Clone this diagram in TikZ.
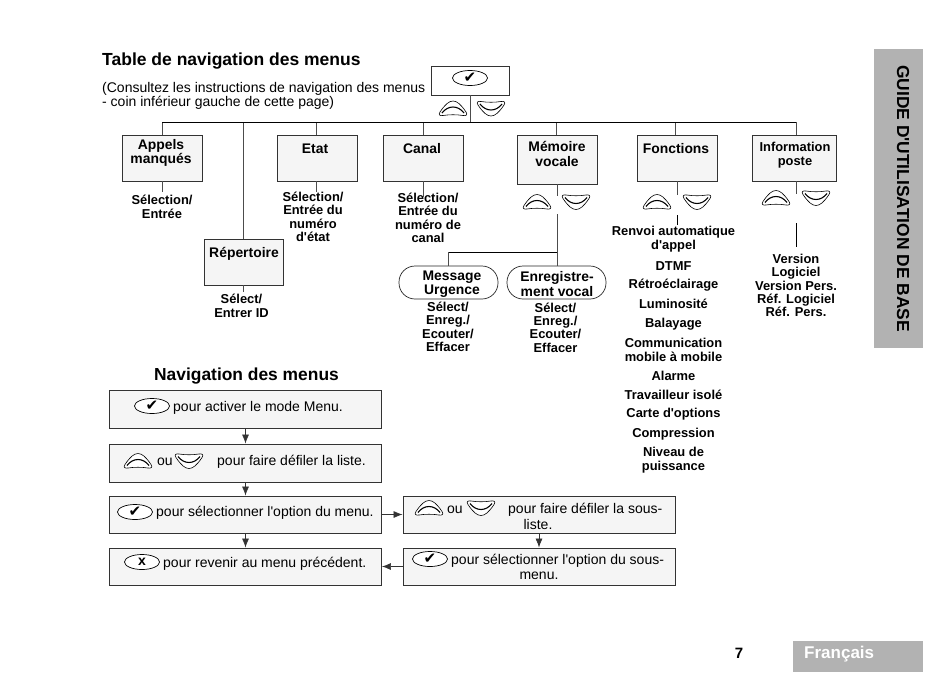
\documentclass[tikz,border=0pt]{standalone}
\usepackage{fontspec}
\setmainfont{Liberation Sans}[Ligatures=TeXOff]
\newfontfamily\symbfont{DejaVu Sans}
\usetikzlibrary{arrows.meta,shapes.geometric}

\colorlet{BoxFill}{gray!8}
\colorlet{TabFill}{gray!60}

\tikzset{
  menubox/.style={draw=black!80,fill=BoxFill,line width=0.9pt,inner sep=0pt},
  navbox/.style={menubox,minimum width=272,minimum height=38},
  pillbox/.style={draw=black!85,fill=white,line width=0.7pt,rounded corners=16,inner sep=0pt,minimum width=99,minimum height=33},
  boldtxt/.style={font=\fontsize{12.9}{13.4}\selectfont\bfseries,align=center,inner sep=0pt},
  listtxt/.style={boldtxt,font=\fontsize{12.9}{14}\selectfont\bfseries},
  headtxt/.style={boldtxt,font=\fontsize{13.9}{14.5}\selectfont\bfseries},
  navtxt/.style={font=\fontsize{14}{15}\selectfont,inner sep=0pt},
  stem/.style={draw=black!70,line width=0.7pt},
  bus/.style={draw=black,line width=0.9pt},
  flow/.style={draw=black!80,line width=0.7pt,-{Latex[length=9pt,width=7pt]}},
  okkey/.style={draw=black,fill=white,ellipse,line width=0.7pt,inner sep=0pt,minimum width=35,minimum height=15,font=\fontsize{15}{15}\symbfont},
  upkey/.pic={
    \draw[black,line width=0.6pt,fill=white] (-13,3.5) .. controls (-8,-4) and (-4,-7.5) .. (0,-7.5)
      .. controls (4,-7.5) and (8,-4) .. (13,3.5) .. controls (15,6.5) and (13,7.5) .. (10,7)
      .. controls (4,6) and (-4,6) .. (-10,7) .. controls (-13,7.5) and (-15,6.5) .. cycle;
    \draw[black,line width=1.1pt] (-11,4.5) .. controls (-5,-3.5) and (5,-3.5) .. (11,4.5);
  },
  downkey/.pic={
    \draw[black,line width=0.6pt,fill=white] (-13,-3.5) .. controls (-8,4) and (-4,7.5) .. (0,7.5)
      .. controls (4,7.5) and (8,4) .. (13,-3.5) .. controls (15,-6.5) and (13,-7.5) .. (10,-7)
      .. controls (4,-6) and (-4,-6) .. (-10,-7) .. controls (-13,-7.5) and (-15,-6.5) .. cycle;
    \draw[black,line width=1.1pt] (-11,-4.5) .. controls (-5,3.5) and (5,3.5) .. (11,-4.5);
  },
}

\begin{document}
\begin{tikzpicture}[x=1pt,y=-1pt]

\useasboundingbox (0,0) rectangle (950,672);

% Titres
\node[anchor=west,inner sep=0pt,font=\fontsize{17.5}{17.5}\selectfont\bfseries] (titretable) at (102,61) {Table de navigation des menus};
\node[anchor=north west,inner sep=0pt,align=left,font=\fontsize{14}{14.2}\selectfont] (consigne) at (102,82)
  {(Consultez les instructions de navigation des menus\\- coin inférieur gauche de cette page)};
\node[inner sep=0pt,font=\fontsize{17.4}{17.4}\selectfont\bfseries] (titrenav) at (246.5,376) {Navigation des menus};

% Boites du menu
\node[menubox,fill=white,minimum width=78,minimum height=29] (racine) at (470,80.5) {};
\node[menubox,minimum width=80,minimum height=46] (appels) at (162,158) {};
\node[menubox,minimum width=80,minimum height=46] (etat) at (317,158) {};
\node[menubox,minimum width=80,minimum height=46] (canal) at (423,158) {};
\node[menubox,minimum width=80,minimum height=49] (memoire) at (557,159.5) {};
\node[menubox,minimum width=80,minimum height=46] (fonctions) at (677,158) {};
\node[menubox,minimum width=84,minimum height=46] (infoposte) at (794,158) {};
\node[menubox,minimum width=79,minimum height=46] (repertoire) at (243.5,262) {};
\node[pillbox] (message) at (448.5,282.5) {};
\node[pillbox] (enreg) at (556.5,282.5) {};

\node[headtxt] (appelstxt) at (161,153) {Appels\\manqués};
\node[headtxt] (etattxt) at (315,149) {Etat};
\node[headtxt] (canaltxt) at (422,149) {Canal};
\node[headtxt] (memoiretxt) at (557,154) {Mémoire\\vocale};
\node[headtxt] (fonctionstxt) at (676,149) {Fonctions};
\node[listtxt] (infopostetxt) at (795,155) {Information\\poste};
\node[headtxt] (repertoiretxt) at (244,254) {Répertoire};
\node[headtxt] (messagetxt) at (452,284) {Message\\Urgence};
\node[headtxt] (enregtxt) at (557,284) {Enregistre-\\ment vocal};

% Textes sous les boites
\node[listtxt] (appelssel) at (162,206.5) {Sélection/\\Entrée};
\node[boldtxt] (etatsel) at (313,217) {Sélection/\\Entrée du\\numéro\\d'état};
\node[boldtxt] (canalsel) at (428,218) {Sélection/\\Entrée du\\numéro de\\canal};
\node[listtxt] (repertoiresel) at (241.5,305.5) {Sélect/\\Entrer ID};
\node[boldtxt] (messagesel) at (448,327) {Sélect/\\Enreg./\\Ecouter/\\Effacer};
\node[boldtxt] (enregsel) at (555.5,327.5) {Sélect/\\Enreg./\\Ecouter/\\Effacer};
\node[boldtxt] (infopostesel) at (796,285.5) {Version\\Logiciel\\Version Pers.\\Réf. Logiciel\\Réf. Pers.};

\foreach \nom/\yy/\txt in {
  renvoi/239/{Renvoi automatique\\d'appel},
  dtmf/266/{DTMF},
  retro/285/{Rétroéclairage},
  lumin/304/{Luminosité},
  balay/324/{Balayage},
  commu/350/{Communication\\mobile à mobile},
  alarme/376/{Alarme},
  travail/395/{Travailleur isolé},
  carte/414/{Carte d'options},
  compr/434/{Compression},
  niveau/460/{Niveau de\\puissance}}
  \node[listtxt] (\nom) at (673.5,\yy) {\txt};

% Touches
\node[okkey] (okracine) at (470,78) {✔};
\pic (upracine) at (453,108.5) {upkey};
\pic (downracine) at (491,108.5) {downkey};
\pic (upmemoire) at (537,202) {upkey};
\pic (downmemoire) at (576,202) {downkey};
\pic (upfonctions) at (657,202) {upkey};
\pic (downfonctions) at (697,202) {downkey};
\pic (upinfo) at (776,198) {upkey};
\pic (downinfo) at (816,198) {downkey};

% Bus et traits
\coordinate (busgauche) at (162,122);
\coordinate (busrep) at (243,122);
\coordinate (busetat) at (316,122);
\coordinate (buscanal) at (423,122);
\coordinate (busracine) at (470,122);
\coordinate (busmemoire) at (556,122);
\coordinate (busfonctions) at (675,122);
\coordinate (busdroite) at (796,122);

\draw[stem] (racine.south) -- (busracine);
\draw[stem] (busgauche) -- (appels.north);
\foreach \bb/\cc in {busrep/repertoire,busetat/etat,buscanal/canal,busmemoire/memoire,busfonctions/fonctions,busdroite/infoposte}
  \draw[stem] (\bb) -- (\bb |- \cc.north);
\draw[bus] (busgauche) -- (busdroite);

\coordinate (appelsfin) at (162,192);
\coordinate (etatfin) at (316,192);
\coordinate (canalfin) at (423,197);
\coordinate (memoirefin) at (557,196);
\coordinate (fonctionsfin) at (677,195);
\coordinate (infofin) at (796,194);
\coordinate (repfin) at (243,292);
\draw[stem] (appels.south) -- (appelsfin);
\draw[stem] (etatfin |- etat.south) -- (etatfin);
\draw[stem] (canal.south) -- (canalfin);
\draw[stem] (memoire.south) -- (memoirefin);
\draw[stem] (fonctions.south) -- (fonctionsfin);
\draw[stem] (infofin |- infoposte.south) -- (infofin);
\draw[stem] (repfin |- repertoire.south) -- (repfin);

\coordinate (memoirehaut) at (557,214);
\coordinate (memoirebus) at (557,252);
\draw[stem] (memoirehaut) -- (enreg.north -| memoirehaut);
\draw[bus,line width=0.8pt] (memoirebus) -- (memoirebus -| message.north);
\draw[stem] (memoirebus -| message.north) -- (message.north);

\coordinate (fonctionsa) at (677,215);
\coordinate (fonctionsb) at (677,225);
\draw[black,line width=0.8pt] (fonctionsa) -- (fonctionsb);
\coordinate (infoa) at (796,223);
\coordinate (infob) at (796,247);
\draw[black,line width=0.8pt] (infoa) -- (infob);

% Navigation des menus
\node[navbox] (nava) at (245.5,409) {};
\node[navbox] (navb) at (245.5,463) {};
\node[navbox,minimum height=37] (navc) at (245.5,514.5) {};
\node[navbox,minimum height=37] (navd) at (245.5,566.5) {};
\node[navbox,minimum height=37] (nave) at (539,514.5) {};
\node[navbox,minimum height=37] (navf) at (539,566.5) {};

\draw[flow] (nava) -- (navb);
\draw[flow] (navb) -- (navc);
\draw[flow] (navc) -- (navd);
\draw[flow] (navc) -- (nave);
\draw[flow] (nave) -- (navf);
\draw[flow] (navf) -- (navd);

\node[okkey] (oka) at (152,406) {✔};
\node[navtxt,anchor=west] (txta) at (173,408) {pour activer le mode Menu.};

\pic (upb) at (138,461) {upkey};
\node[navtxt,anchor=west] (oub) at (157,462) {ou};
\pic (downb) at (189,461) {downkey};
\node[navtxt,anchor=west] (txtb) at (217,462) {pour faire défiler la liste.};

\node[okkey] (okc) at (135,512) {✔};
\node[navtxt,anchor=west] (txtc) at (156,513) {pour sélectionner l'option du menu.};

\node[okkey,font=\fontsize{14}{14}\selectfont\bfseries] (okd) at (142,562) {x};
\node[navtxt,anchor=west] (txtd) at (163,564) {pour revenir au menu précédent.};

\pic (upe) at (429,508) {upkey};
\node[navtxt,anchor=west] (oue) at (447,510) {ou};
\pic (downe) at (481,508) {downkey};
\node[navtxt,anchor=west] (txte) at (508,510) {pour faire défiler la sous-};
\node[navtxt] (txtee) at (538,524.5) {liste.};

\node[okkey] (okf) at (430,559) {✔};
\node[navtxt,anchor=west] (txtf) at (451,561) {pour sélectionner l'option du sous-};
\node[navtxt] (txtff) at (539,575.5) {menu.};

% Onglets
\node[fill=TabFill,inner sep=0pt,minimum width=49,minimum height=299] (onglet) at (898.5,198.5) {};
\node[rotate=-90,inner sep=0pt,font=\fontsize{17.4}{17.4}\selectfont\bfseries] (onglettxt) at (903,198.5) {GUIDE D'UTILISATION DE BASE};
\node[fill=TabFill,inner sep=0pt,minimum width=130,minimum height=31] (langue) at (858,656.5) {};
\node[text=white,anchor=west,inner sep=0pt,font=\fontsize{17}{17}\selectfont\bfseries] (languetxt) at (804,654) {Français};
\node[inner sep=0pt,font=\fontsize{15}{15}\selectfont\bfseries] (page) at (739,653) {7};

\end{tikzpicture}
\end{document}
